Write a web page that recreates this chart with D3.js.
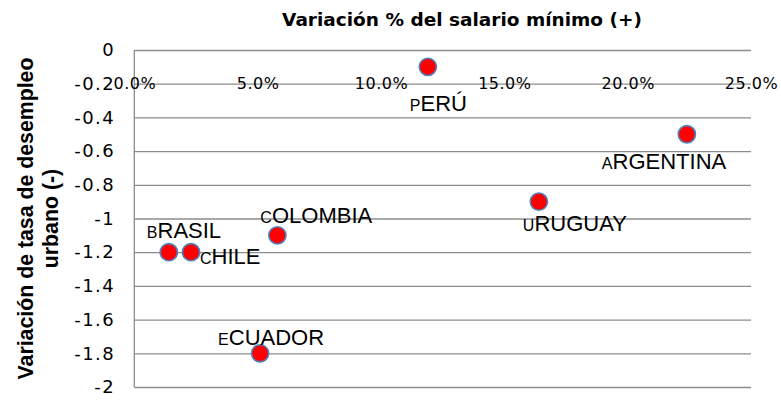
<!DOCTYPE html>
<meta charset="utf-8">
<style>
    body { margin: 0; background: #fff; }
    .ylab text {
        font-family: 'DejaVu Sans', sans-serif;
        font-size: 18px;
        letter-spacing: 1.4px;
        fill: #000;
    }
    .xlab text {
        font-family: 'DejaVu Sans', sans-serif;
        font-size: 16px;
        letter-spacing: 0.5px;
        fill: #000;
    }
    .title { font-family: 'DejaVu Sans', sans-serif; font-weight: bold; font-size: 18.5px; }
    .ytitle { font-family: 'Liberation Sans', Arial, sans-serif; font-weight: bold; font-size: 21.3px; }
    .lbl { font-family: 'Liberation Sans', Arial, sans-serif; font-size: 22px; fill: #000; }
</style>
<body>
<script src="https://cdn.jsdelivr.net/npm/d3@7/dist/d3.min.js"></script>
<script>

// data
var countries = ["BRASIL", "CHILE", "COLOMBIA", "ECUADOR", "PERÚ", "URUGUAY", "ARGENTINA"];
var salaryChange = [1.4, 2.3, 5.8, 5.1, 11.9, 16.4, 22.4];          // % variación salario mínimo
var unemploymentChange = [-1.2, -1.2, -1.1, -1.8, -0.1, -0.9, -0.5]; // variación tasa de desempleo
var xTicks = [0, 5, 10, 15, 20, 25];
var yTicks = [0, -0.2, -0.4, -0.6, -0.8, -1, -1.2, -1.4, -1.6, -1.8, -2];

// where each label sits relative to its point (dx, dy of the baseline start)
var labelOffsets = [[-22, -14], [9, 12], [-17, -12], [-42, -8], [-18, 44], [-16, 29], [-85, 35]];

var width = 781, height = 401;
var plot = { left: 134.3, right: 751, top: 50, bottom: 387 };

var svg = d3.select("body").append("svg")
    .attr("width", width)
    .attr("height", height);

var x = d3.scaleLinear().domain([0, 25]).range([plot.left, plot.right]);
var y = d3.scaleLinear().domain([-2, 0]).range([plot.bottom, plot.top]);

// horizontal gridlines
var grid = svg.append("g")
    .attr("transform", "translate(" + plot.left + ",0)")
    .call(d3.axisLeft(y).tickValues(yTicks).tickSize(-(plot.right - plot.left)).tickFormat(""));
grid.select(".domain").remove();
grid.selectAll("line").attr("stroke", "#8c8c8c").attr("stroke-width", 1.3);

// vertical axis line
svg.append("line")
    .attr("x1", plot.left).attr("x2", plot.left)
    .attr("y1", plot.top).attr("y2", plot.bottom)
    .attr("stroke", "#8c8c8c").attr("stroke-width", 1.3);

// y tick labels
var yl = svg.append("g")
    .attr("class", "ylab")
    .attr("transform", "translate(115,0)")
    .call(d3.axisLeft(y).tickValues(yTicks).tickSize(0).tickPadding(0)
        .tickFormat(function (d) { return d === 0 ? "0" : String(d); }));
yl.select(".domain").remove();
yl.selectAll("text").attr("font-family", null).attr("font-size", null).attr("fill", null);

// x tick labels sit on the -0.2 line
var xl = svg.append("g")
    .attr("class", "xlab")
    .attr("transform", "translate(0," + y(-0.2) + ")")
    .call(d3.axisBottom(x).tickValues(xTicks).tickSize(0)
        .tickFormat(function (d) { return d3.format(".1f")(d) + "%"; }));
xl.select(".domain").remove();
xl.selectAll("text").attr("font-family", null).attr("font-size", null).attr("fill", null)
    .attr("y", 0).attr("dy", "0.36em");

// titles
svg.append("text")
    .attr("class", "title")
    .attr("x", 462).attr("y", 26)
    .attr("text-anchor", "middle")
    .text("Variación % del salario mínimo (+)");

var yt = svg.append("text")
    .attr("class", "ytitle")
    .attr("transform", "rotate(-90)")
    .attr("text-anchor", "middle");
yt.append("tspan").attr("x", -(plot.top + plot.bottom) / 2).attr("y", 33).text("Variación de tasa de desempleo");
yt.append("tspan").attr("x", -(plot.top + plot.bottom) / 2).attr("y", 58).text("urbano (-)");

// points
svg.selectAll("circle.pt")
    .data(countries)
    .enter().append("circle")
    .attr("class", "pt")
    .attr("cx", function (d, i) { return x(salaryChange[i]); })
    .attr("cy", function (d, i) { return y(unemploymentChange[i]); })
    .attr("r", 8.6)
    .attr("fill", "#ff0000")
    .attr("stroke", "#4f81bd")
    .attr("stroke-width", 1.6);

// data labels, first letter drawn smaller
var lbl = svg.selectAll("text.lbl")
    .data(countries)
    .enter().append("text")
    .attr("class", "lbl")
    .attr("x", function (d, i) { return x(salaryChange[i]) + labelOffsets[i][0]; })
    .attr("y", function (d, i) { return y(unemploymentChange[i]) + labelOffsets[i][1]; });
lbl.append("tspan").attr("font-size", "16px").text(function (d) { return d.charAt(0); });
lbl.append("tspan").text(function (d) { return d.slice(1); });

</script>
</body>
